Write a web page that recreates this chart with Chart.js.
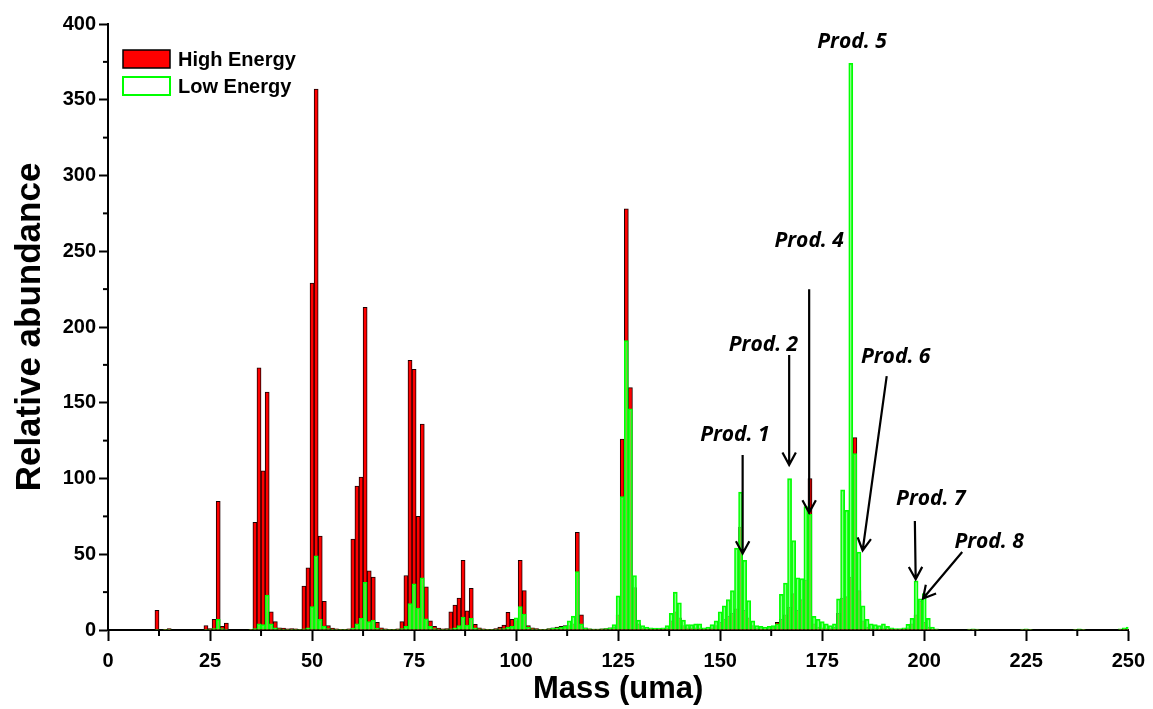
<!DOCTYPE html>
<html>
<head>
<meta charset="utf-8">
<script src="https://cdn.jsdelivr.net/npm/chart.js@4.4.1/dist/chart.umd.min.js"></script>
<style>
html, body { margin: 0; padding: 0; background: #fff; }
#wrap { width: 1153px; height: 709px; }
</style>
</head>
<body>
<div id="wrap"><canvas id="massChart" width="1153" height="709"></canvas></div>
<script>
/* global Chart */

// mass (uma) of every bar
const masses = [
    12, 14, 15, 24, 25, 26, 27, 28, 29, 35,
    36, 37, 38, 39, 40, 41, 42, 43, 44, 45, 46, 47,
    48, 49, 50, 51, 52, 53, 54, 55, 56, 57, 58, 59,
    60, 61, 62, 63, 64, 65, 66, 67, 68, 69, 70, 71,
    72, 73, 74, 75, 76, 77, 78, 79, 80, 81, 82, 83,
    84, 85, 86, 87, 88, 89, 90, 91, 92, 93, 94, 95,
    96, 97, 98, 99, 100, 101, 102, 103, 104, 105, 106, 107,
    108, 109, 110, 111, 112, 113, 114, 115, 116, 117, 118, 119,
    120, 121, 122, 123, 124, 125, 126, 127, 128, 129, 130, 131,
    132, 133, 134, 135, 136, 137, 138, 139, 140, 141, 142, 143,
    144, 145, 146, 147, 148, 149, 150, 151, 152, 153, 154, 155,
    156, 157, 158, 159, 160, 161, 162, 163, 164, 165, 166, 167,
    168, 169, 170, 171, 172, 173, 174, 175, 176, 177, 178, 179,
    180, 181, 182, 183, 184, 185, 186, 187, 188, 189, 190, 191,
    192, 193, 194, 195, 196, 197, 198, 199, 200, 201, 202, 203,
    211, 212, 213, 224, 225, 226, 237, 238, 239, 248, 249, 250
];

const highEnergy = [
    13, 0.5, 1, 3, 1, 7, 85, 2.5, 4.5, 0.5,
    71, 173, 105, 157, 12, 5.5, 1.5, 1.2, 0.8, 1, 0.8, 0.5,
    29, 41, 229, 357, 62, 19, 3, 1.3, 0.8, 0.5, 0.5, 0.8,
    60, 95, 101, 213, 39, 35, 5, 1.5, 0.8, 0.5, 0.5, 0.8,
    5.5, 36, 178, 172, 75, 136, 28.5, 6, 2.5, 1.3, 0.8, 1,
    12, 16.5, 21, 46, 12.7, 27.5, 3.7, 1.5, 0.8, 0.5, 0.5, 1,
    2, 3.3, 11.7, 7, 6.2, 46, 26, 3, 1.5, 1, 0.5, 0.5,
    1, 1.5, 2, 2.5, 3, 3, 4, 64.5, 10, 1.5, 0.8, 0.6,
    0.6, 0.8, 1, 1.5, 2, 10, 126, 278, 160, 28, 4, 1.5,
    1, 0.8, 0.8, 0.8, 1, 1.5, 6, 12, 8, 3, 1.5, 1.5,
    1.5, 1.2, 0.8, 1, 1.5, 3, 5, 7, 9, 11, 14, 68,
    13, 8, 3, 1, 0.8, 0.8, 1, 2, 5, 7, 10, 15,
    24, 13, 20, 33, 100, 4, 2, 1.5, 1, 1, 2, 11,
    21, 22, 35, 127, 26, 6, 2, 1, 1, 0.8, 1, 0.7,
    0.5, 0.4, 0.4, 0.6, 1.5, 4, 10, 19, 5, 2, 0.6, 0.3,
    0.3, 0.4, 0.3, 0.3, 0.4, 0.3, 0.3, 0.3, 0.3, 0.3, 0.4, 0.5
];

const lowEnergy = [
    0.3, 0.3, 0.5, 0.5, 0.5, 1, 7, 1, 0.5, 0.3,
    1, 4, 3.5, 23, 4, 1.5, 0.8, 0.5, 0.5, 0.5, 0.3, 0.3,
    0.8, 1.5, 15.5, 49, 7, 2.6, 1, 0.6, 0.4, 0.3, 0.3, 0.5,
    1.3, 4, 7.7, 31.5, 5.5, 6.6, 1.3, 0.6, 0.4, 0.3, 0.3, 0.5,
    1, 2.5, 17.5, 30.5, 14.5, 34.5, 7.3, 2.5, 1, 0.6, 0.4, 0.6,
    0.8, 1.5, 3, 8.5, 3.3, 7.7, 1.5, 0.7, 0.4, 0.3, 0.3, 0.5,
    0.8, 1, 2, 2.5, 8, 15.5, 10.5, 2, 0.8, 0.5, 0.4, 0.5,
    0.8, 1.2, 1.5, 2, 2.5, 6, 9.2, 38.5, 4, 1.2, 0.7, 0.6,
    0.6, 0.8, 1, 1.5, 3.5, 22.5, 88, 191, 146, 36, 6.5, 3,
    2, 1.5, 1.2, 1.2, 1.5, 3, 11, 25, 18, 6.5, 3.5, 3.5,
    4, 4, 1.5, 2, 3.5, 6, 12, 16, 20, 26, 54, 91,
    46, 19.5, 6, 3, 2.5, 2, 2.5, 3, 4, 23.5, 31, 100,
    59, 34.5, 34, 81.5, 76.5, 9, 7, 5.5, 4, 3, 4, 20.5,
    92.5, 79, 374, 116.5, 51.5, 16, 7, 4, 3.5, 3, 4, 2.5,
    1.5, 1, 1, 1.5, 3.8, 7.7, 32.5, 20.5, 24, 7.7, 2, 0.8,
    0.6, 0.8, 0.6, 0.6, 0.8, 0.5, 0.5, 0.7, 0.5, 0.8, 1.5, 2
];

const xTicks = [0, 25, 50, 75, 100, 125, 150, 175, 200, 225, 250];
const yTicks = [0, 50, 100, 150, 200, 250, 300, 350, 400];

// product labels, in data units: text position, arrow start, arrow tip
const products = [
    { text: "Prod. 1", at: [153.6, 128.7], from: [155.5, 115.5], to: [155.5, 50.5] },
    { text: "Prod. 2", at: [160.6, 188.1], from: [166.9, 181.5], to: [166.9, 109] },
    { text: "Prod. 4", at: [171.8, 256.8], from: [171.8, 225], to: [171.8, 77.5] },
    { text: "Prod. 5", at: [182.3, 388.4] },
    { text: "Prod. 6", at: [193.0, 180.5], from: [190.8, 167.6], to: [184.9, 52.5] },
    { text: "Prod. 7", at: [201.6, 86.5], from: [197.7, 71.9], to: [197.9, 33.5] },
    { text: "Prod. 8", at: [215.9, 58.1], from: [209.3, 51.5], to: [199.7, 20.8] }
];

const AXIS_FONT = "'Liberation Sans', Arial, sans-serif";

function drawArrow(ctx, x1, y1, x2, y2)
{
    const ang = Math.atan2(y2 - y1, x2 - x1);
    const len = 14;
    ctx.beginPath();
    ctx.moveTo(x1, y1);
    ctx.lineTo(x2, y2);
    ctx.moveTo(x2 - len * Math.cos(ang - 0.5), y2 - len * Math.sin(ang - 0.5));
    ctx.lineTo(x2, y2);
    ctx.lineTo(x2 - len * Math.cos(ang + 0.5), y2 - len * Math.sin(ang + 0.5));
    ctx.stroke();
}

const extrasPlugin = {
    id: "extras",
    afterDatasetsDraw(chart)
    {
        const ctx = chart.ctx;
        const x = chart.scales.x;
        const y = chart.scales.y;
        const area = chart.chartArea;

        // minor ticks
        ctx.save();
        ctx.strokeStyle = "#000";
        ctx.lineWidth = 2;
        for (let v = 12.5; v < 250; v += 25)
        {
            const px = x.getPixelForValue(v);
            ctx.beginPath();
            ctx.moveTo(px, area.bottom);
            ctx.lineTo(px, area.bottom + 6);
            ctx.stroke();
        }
        for (let v = 25; v < 400; v += 50)
        {
            const py = y.getPixelForValue(v);
            ctx.beginPath();
            ctx.moveTo(area.left, py);
            ctx.lineTo(area.left - 5, py);
            ctx.stroke();
        }

        // product annotations
        ctx.fillStyle = "#000";
        ctx.font = "italic bold 21px 'Open Sans', sans-serif";
        ctx.textAlign = "center";
        ctx.textBaseline = "middle";
        ctx.lineWidth = 2.2;
        ctx.lineCap = "butt";
        products.forEach(p =>
        {
            ctx.fillText(p.text, x.getPixelForValue(p.at[0]), y.getPixelForValue(p.at[1]));
            if (p.from)
            {
                drawArrow(ctx,
                    x.getPixelForValue(p.from[0]), y.getPixelForValue(p.from[1]),
                    x.getPixelForValue(p.to[0]), y.getPixelForValue(p.to[1]));
            }
        });

        // legend
        const lx = area.left + 15;
        const ly = area.top + 26;
        ctx.fillStyle = "#ff0000";
        ctx.fillRect(lx, ly, 47, 18);
        ctx.strokeStyle = "#000";
        ctx.lineWidth = 1.5;
        ctx.strokeRect(lx, ly, 47, 18);
        ctx.fillStyle = "#fff";
        ctx.fillRect(lx, ly + 27, 47, 18);
        ctx.strokeStyle = "#00ff00";
        ctx.lineWidth = 2;
        ctx.strokeRect(lx, ly + 27, 47, 18);

        ctx.fillStyle = "#000";
        ctx.font = "bold 20px " + AXIS_FONT;
        ctx.textAlign = "left";
        ctx.fillText(chart.data.datasets[0].label, lx + 55, ly + 10);
        ctx.fillText(chart.data.datasets[1].label, lx + 55, ly + 37);
        ctx.restore();
    }
};

new Chart(
    document.getElementById("massChart"),
    {
        type: "bar",
        data: {
            datasets: [
                {
                    label: "High Energy",
                    data: masses.map((m, i) => ({ x: m, y: highEnergy[i] })),
                    backgroundColor: "#ff0000",
                    borderColor: "#1a0000",
                    borderWidth: 1,
                    grouped: false,
                    order: 1,
                    barPercentage: 1,
                    categoryPercentage: 1
                },
                {
                    label: "Low Energy",
                    data: masses.map((m, i) => ({ x: m, y: lowEnergy[i] })),
                    backgroundColor: "rgba(190,255,190,0.35)",
                    borderColor: "#00ff00",
                    borderWidth: 1.5,
                    grouped: false,
                    order: 0,
                    barPercentage: 1,
                    categoryPercentage: 1
                }
            ]
        },
        options: {
            responsive: false,
            animation: false,
            devicePixelRatio: 1,
            layout: { padding: { top: 24, right: 19, left: 0, bottom: 0 } },
            plugins: {
                legend: { display: false },
                tooltip: { enabled: false }
            },
            scales: {
                x: {
                    type: "linear",
                    min: 0,
                    max: 250,
                    offset: false,
                    afterBuildTicks: s => { s.ticks = xTicks.map(v => ({ value: v })); },
                    afterFit: s => { s.height = 79; },
                    grid: {
                        offset: false,
                        drawOnChartArea: false,
                        tickLength: 11,
                        tickWidth: 2,
                        tickColor: "#000"
                    },
                    border: { display: true, color: "#000", width: 2 },
                    ticks: {
                        padding: 8,
                        maxRotation: 0,
                        color: "#000",
                        font: { family: AXIS_FONT, weight: "bold", size: 20 }
                    },
                    title: {
                        display: true,
                        text: "Mass (uma)",
                        color: "#000",
                        padding: { top: 0, bottom: 1 },
                        font: { family: AXIS_FONT, weight: "bold", size: 31 }
                    }
                },
                y: {
                    min: 0,
                    max: 400,
                    afterBuildTicks: s => { s.ticks = yTicks.map(v => ({ value: v })); },
                    afterFit: s => { s.width = 108; },
                    grid: {
                        drawOnChartArea: false,
                        tickLength: 9,
                        tickWidth: 2,
                        tickColor: "#000"
                    },
                    border: { display: true, color: "#000", width: 2 },
                    ticks: {
                        padding: 3,
                        color: "#000",
                        font: { family: AXIS_FONT, weight: "bold", size: 20 }
                    },
                    title: {
                        display: true,
                        text: "Relative abundance",
                        color: "#000",
                        padding: { top: 9, bottom: 0 },
                        font: { family: AXIS_FONT, weight: "bold", size: 35 }
                    }
                }
            }
        },
        plugins: [extrasPlugin]
    }
);
</script>
</body>
</html>
